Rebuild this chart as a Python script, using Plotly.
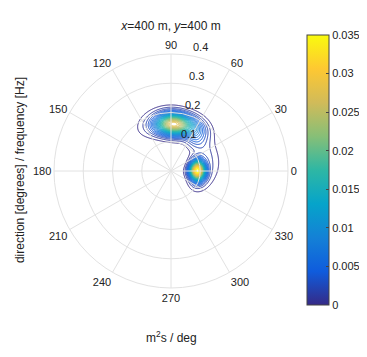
import numpy as np
import plotly.graph_objects as go

# spectral components (frequency Hz, direction deg, spreads, amplitude m^2 s/deg)
comp_freq = [0.160, 0.170, 0.090, 0.135, 0.135, 0.095, 0.175]
comp_dir = [87.0, 62.0, 1.0, 30.0, 52.0, -10.0, 104.0]
comp_sig_f = [0.024, 0.025, 0.017, 0.028, 0.020, 0.028, 0.030]
comp_sig_dir = [14.0, 12.0, 14.0, 28.0, 9.0, 22.0, 18.0]
comp_amp = [0.027, 0.006, 0.034, 0.0022, 0.002, 0.002, 0.002]

angle_ticks = [0, 30, 60, 90, 120, 150, 180, 210, 240, 270, 300, 330]
radial_ticks = [0.1, 0.2, 0.3, 0.4]
cbar_ticks = [0, 0.005, 0.01, 0.015, 0.02, 0.025, 0.03, 0.035]
r_max = 0.4

parula = [
    [0.000, "#352A87"], [0.125, "#0F5CDD"], [0.250, "#1481D6"],
    [0.375, "#06A4CA"], [0.500, "#2EB7A4"], [0.625, "#87BF77"],
    [0.750, "#D1BB59"], [0.875, "#FEC832"], [1.000, "#F9FB0E"],
]

xs = np.linspace(-r_max, r_max, 401)
X, Y = np.meshgrid(xs, xs)
F = np.hypot(X, Y)
TH = np.degrees(np.arctan2(Y, X))
S = np.zeros_like(X)
for f0, d0, sf, sd, a in zip(comp_freq, comp_dir, comp_sig_f, comp_sig_dir, comp_amp):
    dd = (TH - d0 + 180) % 360 - 180
    S += a * np.exp(-0.5 * ((F - f0) / sf) ** 2 - 0.5 * (dd / sd) ** 2)
S[F > r_max] = np.nan

fig = go.Figure()
fig.add_trace(go.Scatterpolar(r=[], theta=[], mode="lines", showlegend=False))
fig.add_trace(go.Contour(
    x=xs, y=xs, z=S, colorscale=parula, zmin=0, zmax=0.035,
    contours=dict(coloring="lines", start=0.001, end=0.035, size=0.001),
    line=dict(width=1), showscale=False, hoverinfo="skip",
))
fig.add_trace(go.Scatter(
    x=[None], y=[None], mode="markers", showlegend=False, hoverinfo="skip",
    marker=dict(color=[0], colorscale=parula, cmin=0, cmax=0.035, showscale=True,
                colorbar=dict(
                    thickness=22, len=270, lenmode="pixels", x=1.08, xanchor="left",
                    xpad=0, y=0.504, yanchor="middle", ypad=0, tickvals=cbar_ticks,
                    ticktext=[str(v) for v in cbar_ticks], ticks="inside", ticklen=3,
                    tickcolor="#444", outlinecolor="#444", outlinewidth=1,
                    tickfont=dict(size=11, color="#222"),
                )),
))

# radial tick labels placed along an 82 degree ray, just outside each ring
plot_px = 234.0
ring_px = plot_px / 2
label_ang = np.radians(82)
radial_annots = []
for v in radial_ticks:
    rho = v / r_max * ring_px + 8
    dx = rho * np.cos(label_ang) + 12
    dy = rho * np.sin(label_ang)
    radial_annots.append(dict(text=str(v), xref="paper", yref="paper",
                              x=0.5 + dx / plot_px, y=0.5 + dy / plot_px,
                              showarrow=False, xanchor="center", yanchor="middle",
                              font=dict(size=11, color="#222")))

fig.update_layout(
    width=367, height=357,
    margin=dict(l=46, r=87, t=46, b=77, autoexpand=False),
    paper_bgcolor="white", plot_bgcolor="rgba(0,0,0,0)",
    font=dict(family="Liberation Sans, Arial, sans-serif", size=11, color="#222"),
    title=dict(text="<i>x</i>=400 m, <i>y</i>=400 m", x=163/367, xanchor="center",
               y=1 - 18/357, yanchor="middle", font=dict(size=12, color="#222")),
    xaxis=dict(range=[-r_max, r_max], visible=False, domain=[0, 1]),
    yaxis=dict(range=[-r_max, r_max], visible=False, domain=[0, 1]),
    polar=dict(
        domain=dict(x=[0, 1], y=[0, 1]), bgcolor="rgba(0,0,0,0)",
        angularaxis=dict(rotation=0, direction="counterclockwise", tickvals=angle_ticks,
                         ticktext=[str(v) for v in angle_ticks], ticks="",
                         gridcolor="#e2e2e2", linecolor="#e2e2e2", showline=True,
                         tickfont=dict(size=11, color="#222")),
        radialaxis=dict(range=[0, r_max], tickvals=radial_ticks, showticklabels=False,
                        angle=82, showline=False, ticks="", gridcolor="#e2e2e2"),
    ),
    annotations=radial_annots + [
        dict(text="direction [degrees] / frequency [Hz]", xref="paper", yref="paper",
             x=(12 - 46) / 234, y=0.504, textangle=-90, showarrow=False,
             xanchor="center", yanchor="middle", font=dict(size=12, color="#222")),
        dict(text="m<sup>2</sup>s / deg", xref="paper", yref="paper",
             x=0.5, y=(280 - 329) / 234, showarrow=False,
             xanchor="center", yanchor="middle", font=dict(size=12, color="#222")),
    ],
)
fig.write_html("out.html")
